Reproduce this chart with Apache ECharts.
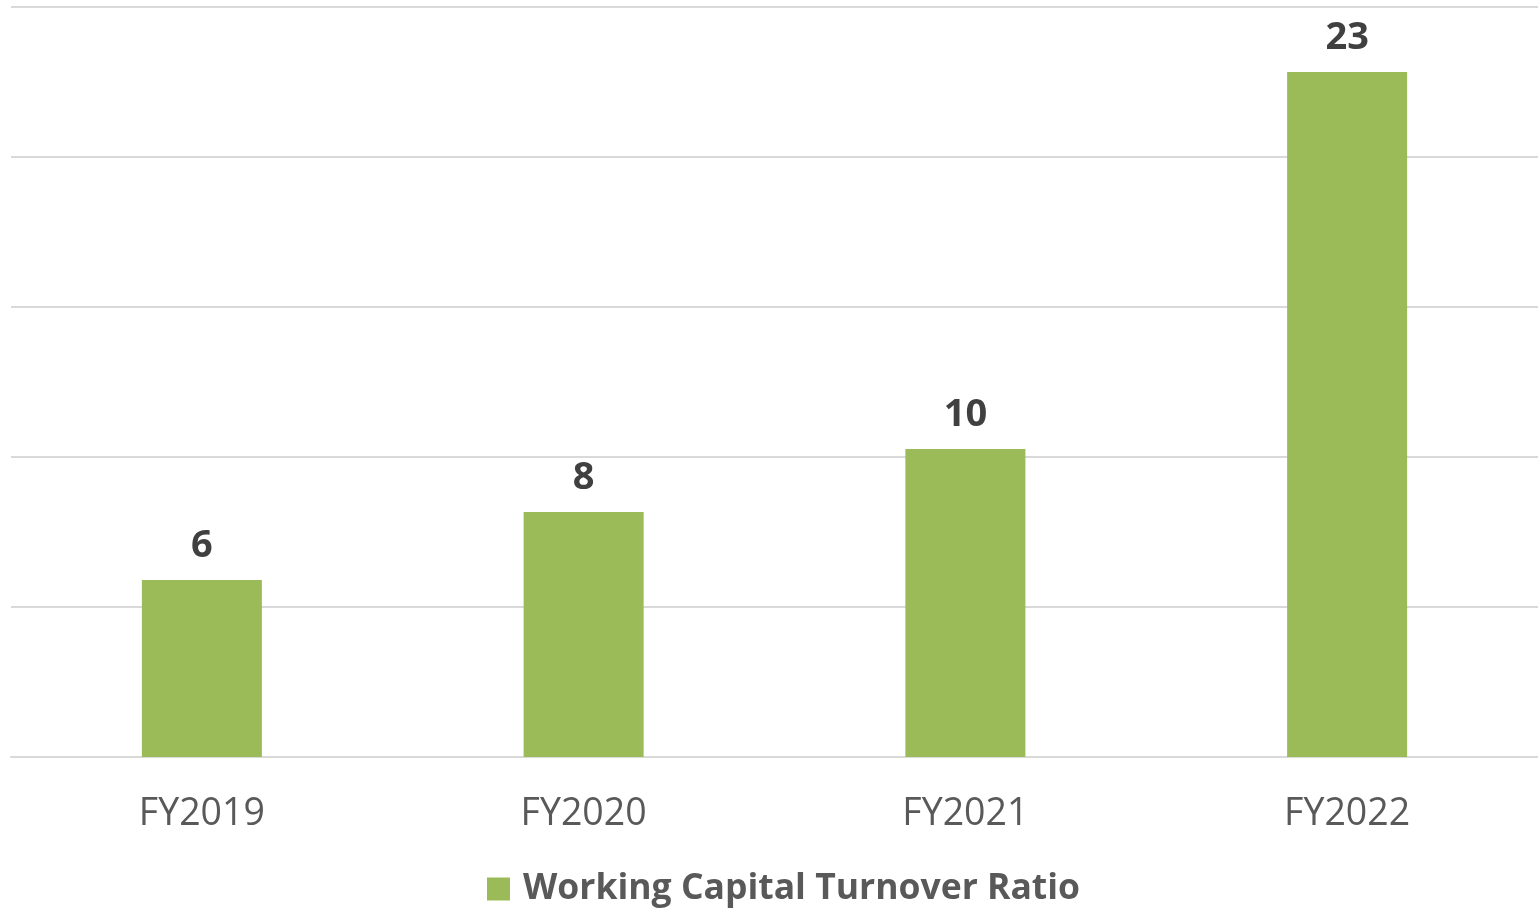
<!DOCTYPE html>
<html>
<head>
<meta charset="utf-8">
<script src="https://cdn.jsdelivr.net/npm/echarts@6/dist/echarts.min.js"></script>
<style>html,body{margin:0;padding:0;background:#fff;}#c{width:1538px;height:910px;}</style>
</head>
<body>
<div id="c"></div>
<script>
const categories = ['FY2019', 'FY2020', 'FY2021', 'FY2022'];
const seriesName = 'Working Capital Turnover Ratio';
const ratioValues = [5.9, 8.17, 10.27, 22.83];
const yTicks = [0, 5, 10, 15, 20, 25];

const chart = echarts.init(document.getElementById('c'));
chart.setOption({
  animation: false,
  grid: { left: 11, right: 0, top: 7, bottom: 153 },
  legend: {
    data: [seriesName],
    bottom: -2,
    left: 482,
    itemWidth: 23,
    itemHeight: 23,
    itemGap: 12,
    icon: 'rect',
    textStyle: { fontFamily: 'Open Sans', fontWeight: 'bold', fontSize: 35.5, color: '#595959', padding: [0, 0, 0, 8] }
  },
  xAxis: {
    type: 'category',
    data: categories,
    axisTick: { show: false },
    axisLine: { lineStyle: { color: '#d9d9d9', width: 2 } },
    axisLabel: { fontFamily: 'Open Sans', fontSize: 37.5, color: '#595959', margin: 38 }
  },
  yAxis: {
    type: 'value',
    min: yTicks[0],
    max: yTicks[yTicks.length - 1],
    interval: yTicks[1] - yTicks[0],
    axisLabel: { show: false },
    axisLine: { show: false },
    axisTick: { show: false },
    splitLine: { lineStyle: { color: '#d9d9d9', width: 2 } }
  },
  series: [{
    name: seriesName,
    type: 'bar',
    data: ratioValues,
    barWidth: 120,
    itemStyle: { color: '#9bbb59' },
    label: {
      show: true,
      position: 'top',
      distance: 15,
      fontFamily: 'Open Sans',
      fontWeight: 'bold',
      fontSize: 38,
      color: '#404040',
      formatter: p => Math.round(p.value)
    }
  }]
});
</script>
</body>
</html>
